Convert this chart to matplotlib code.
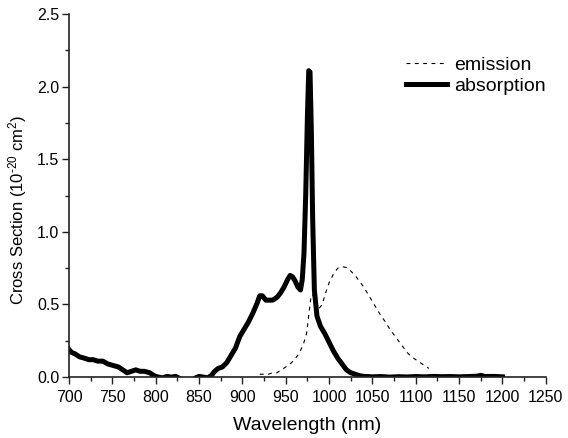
import matplotlib
matplotlib.use("Agg")
import matplotlib.pyplot as plt
from matplotlib.ticker import MultipleLocator

plt.rcParams['font.family'] = ['Liberation Sans', 'DejaVu Sans']
plt.rcParams['mathtext.fontset'] = 'custom'
plt.rcParams['mathtext.rm'] = 'Liberation Sans'
plt.rcParams['mathtext.it'] = 'Liberation Sans:italic'

# absorption cross section
abs_wl = [700, 703, 707, 712, 718, 723, 728, 733, 739, 745, 751, 757, 762, 767,
          772, 777, 782, 787, 793, 798, 803, 808, 813, 818, 823, 828, 832, 836,
          842, 846, 850, 855, 860, 864, 868, 872, 877, 882, 887, 892, 897, 902,
          907, 912, 917, 920, 923, 927, 931, 935, 940, 944, 948, 952, 955, 958,
          961, 964, 967, 969, 971, 973, 975, 976.5, 978, 979.5, 981, 983, 986,
          990, 995, 1000, 1005, 1010, 1015, 1020, 1025, 1030, 1035, 1040, 1045,
          1050, 1060, 1070, 1080, 1090, 1100, 1110, 1120, 1130, 1140, 1150,
          1160, 1170, 1175, 1180, 1190, 1200]
abs_cs = [0.19, 0.17, 0.16, 0.14, 0.13, 0.12, 0.12, 0.11, 0.11, 0.09, 0.08,
          0.07, 0.05, 0.03, 0.04, 0.05, 0.04, 0.04, 0.03, 0.01, 0.0, -0.005,
          0.005, 0.0, 0.005, -0.01, -0.02, -0.04, -0.03, -0.005, 0.005, 0.0,
          -0.005, 0.01, 0.04, 0.06, 0.07, 0.10, 0.15, 0.20, 0.28, 0.33, 0.38,
          0.44, 0.51, 0.56, 0.56, 0.53, 0.53, 0.53, 0.55, 0.58, 0.62, 0.67,
          0.70, 0.69, 0.66, 0.62, 0.60, 0.67, 0.85, 1.25, 1.80, 2.11, 2.10,
          1.70, 1.10, 0.60, 0.42, 0.35, 0.30, 0.24, 0.18, 0.13, 0.09, 0.05,
          0.03, 0.02, 0.01, 0.005, 0.004, 0.002, 0.004, 0.0, 0.003, 0.001,
          0.004, 0.002, 0.005, 0.003, 0.004, 0.002, 0.004, 0.006, 0.012, 0.004,
          0.005, 0.002]

# emission cross section
em_wl = [920, 925, 930, 935, 940, 945, 950, 955, 960, 965, 970, 974, 977, 979,
         981, 984, 988, 992, 996, 1000, 1005, 1010, 1015, 1020, 1025, 1030,
         1035, 1040, 1045, 1050, 1055, 1060, 1065, 1070, 1075, 1080, 1085,
         1090, 1095, 1100, 1105, 1110, 1115]
em_cs = [0.02, 0.02, 0.02, 0.03, 0.03, 0.05, 0.07, 0.09, 0.12, 0.16, 0.22,
         0.30, 0.45, 0.55, 0.57, 0.52, 0.47, 0.50, 0.58, 0.65, 0.71, 0.75,
         0.76, 0.755, 0.73, 0.70, 0.66, 0.62, 0.57, 0.52, 0.47, 0.42, 0.38,
         0.33, 0.29, 0.25, 0.21, 0.17, 0.14, 0.12, 0.10, 0.08, 0.06]

fig = plt.figure(figsize=(5.68, 4.38), dpi=100)
ax = fig.add_axes([0.1215, 0.139, 0.8395, 0.829])

ax.plot(em_wl, em_cs, color='black', lw=0.8, ls=(0, (3.5, 4)), label='emission')
ax.plot(abs_wl, abs_cs, color='black', lw=3.6, solid_joinstyle='round',
        label='absorption')

ax.set_xlim(700, 1250)
ax.set_ylim(0, 2.5)
ax.xaxis.set_major_locator(MultipleLocator(50))
ax.xaxis.set_minor_locator(MultipleLocator(25))
ax.yaxis.set_major_locator(MultipleLocator(0.5))
ax.yaxis.set_minor_locator(MultipleLocator(0.25))
ax.yaxis.set_major_formatter(plt.FormatStrFormatter('%.1f'))

for s in ['top', 'right']:
    ax.spines[s].set_visible(False)
for s in ['left', 'bottom']:
    ax.spines[s].set_linewidth(1.2)
    ax.spines[s].set_color('#222222')

ax.tick_params(which='major', length=5, width=1, direction='out',
               labelsize=11.5, colors='#222222', labelcolor='black')
ax.tick_params(which='minor', length=3, width=1, direction='out',
               colors='#222222')
ax.tick_params(axis='x', pad=4)
ax.tick_params(axis='y', pad=2)

ax.set_xlabel('Wavelength (nm)', fontsize=14, labelpad=9)
ax.set_ylabel(r'Cross Section (10$^{\text{-20}}$ cm$^{\text{2}}$)', fontsize=12)
ax.yaxis.set_label_coords(-0.084, 0.46)

ax.legend(loc='upper left', bbox_to_anchor=(0.707, 0.884), frameon=False,
          fontsize=14, handlelength=2.1, handletextpad=0.35, labelspacing=0.2,
          borderpad=0, borderaxespad=0)

fig.savefig('out.png', dpi=100)
